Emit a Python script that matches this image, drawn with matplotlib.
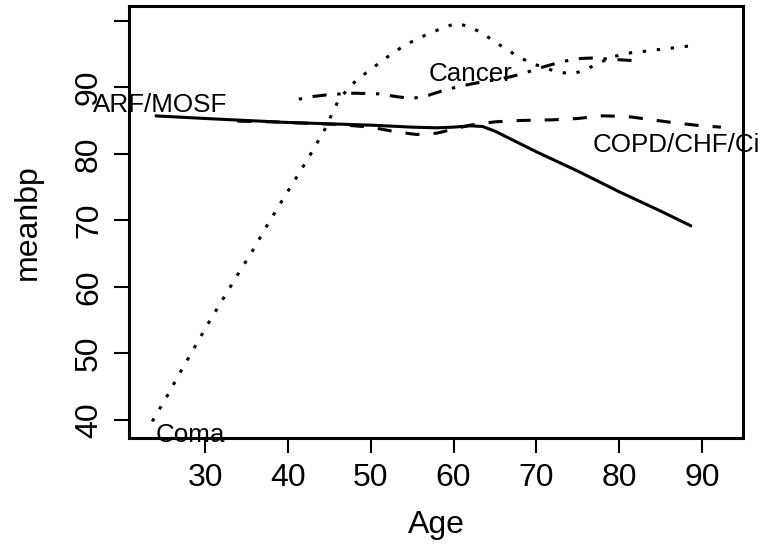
import matplotlib
matplotlib.use("Agg")
import matplotlib.pyplot as plt

plt.rcParams['font.family'] = ['Liberation Sans', 'DejaVu Sans']

# smoothed meanbp by age, one curve per disease group
arf_age = [23.9, 30, 35, 40, 45, 50, 55, 58, 60, 62, 63.5, 65, 70, 75, 80, 85, 88.8]
arf_bp = [85.7, 85.3, 85.0, 84.7, 84.5, 84.3, 84.0, 83.9, 84.0, 84.2, 84.1, 83.4, 80.3, 77.4, 74.3, 71.4, 69.1]

copd_age = [33.9, 38, 42, 46, 50, 53, 55.5, 58, 60, 62, 65, 68, 72, 75, 78, 81, 84, 87, 90, 92.3]
copd_bp = [84.9, 84.8, 84.6, 84.4, 84.0, 83.3, 82.9, 83.1, 83.7, 84.3, 84.8, 85.0, 85.1, 85.3, 85.7, 85.6, 85.1, 84.6, 84.2, 84.0]

coma_age = [23.6, 25.3, 27.0, 28.7, 30.4, 32.2, 34.0, 35.8, 37.5, 39.3, 41.1, 42.9, 44.6, 45.3,
            46.2, 48.3, 49.7, 51.1, 52.6, 54.0, 55.5, 57.1, 58.7, 60.3, 61.9, 63.5, 65.0,
            66.4, 67.8, 69.4, 72.5, 74.4, 75.9, 77.5, 79.1, 80.9, 82.5, 84.3, 85.9, 87.8, 89.3]
coma_bp = [39.8, 43.4, 47.2, 50.9, 54.6, 58.3, 62.0, 65.6, 69.3, 73.0, 76.6, 80.3, 84.0, 86.0,
           88.3, 91.1, 92.4, 93.7, 95.1, 96.2, 97.2, 98.1, 98.9, 99.6, 99.1, 98.1, 96.8,
           95.7, 94.6, 93.6, 92.3, 92.0, 92.6, 93.6, 94.5, 95.1, 95.3, 95.6, 95.8, 96.1, 96.3]

cancer_age = [41.3, 43, 45, 48, 51, 53, 55, 57, 59, 61, 63, 65, 67, 69, 71, 73, 75, 77, 79, 81.7]
cancer_bp = [88.2, 88.6, 88.9, 89.1, 89.0, 88.6, 88.3, 88.8, 89.6, 90.2, 90.7, 91.1, 91.6, 92.3,
             93.1, 93.8, 94.3, 94.4, 94.2, 94.0]

xticks = [30, 40, 50, 60, 70, 80, 90]
yticks = [40, 50, 60, 70, 80, 90, 100]
ytick_labels = ['40', '50', '60', '70', '80', '90', '']

fig = plt.figure(figsize=(7.65, 5.5), dpi=100)
ax = fig.add_axes([0.1682, 0.2036, 0.8034, 0.7855])

lw = 2.2
ax.plot(arf_age, arf_bp, color='black', lw=lw, solid_capstyle='butt')
ax.plot(copd_age, copd_bp, color='black', lw=lw, linestyle=(0, (4.6, 4.6)))
ax.plot(coma_age, coma_bp, color='black', lw=lw, linestyle=(0, (1.1, 3.5)))
ax.plot(cancer_age, cancer_bp, color='black', lw=lw, linestyle=(0, (1.1, 3.5, 4.6, 3.5)))

lab_size = 18.7
ax.text(24.6, 86.3, 'ARF/MOSF', ha='center', va='baseline', fontsize=lab_size)
ax.text(62.0, 91.0, 'Cancer', ha='center', va='baseline', fontsize=lab_size)
ax.text(76.86, 80.3, 'COPD/CHF/Ci', ha='left', va='baseline', fontsize=lab_size)
ax.text(28.2, 36.7, 'Coma', ha='center', va='baseline', fontsize=lab_size)

ax.set_xlim(20.75, 95.0)
ax.set_ylim(37.3, 102.2)
ax.set_xticks(xticks)
ax.set_yticks(yticks)
ax.set_yticklabels(ytick_labels, rotation=90, va='center')
ax.tick_params(length=10.8, width=1.5, labelsize=23, pad=7, direction='out')

for s in ax.spines.values():
    s.set_linewidth(2.2)

ax.set_xlabel('Age', fontsize=23)
ax.set_ylabel('meanbp', fontsize=23)
ax.xaxis.set_label_coords(0.5, -0.167)
ax.yaxis.set_label_coords(-0.139, 0.5)

fig.savefig('out.png', dpi=100)
